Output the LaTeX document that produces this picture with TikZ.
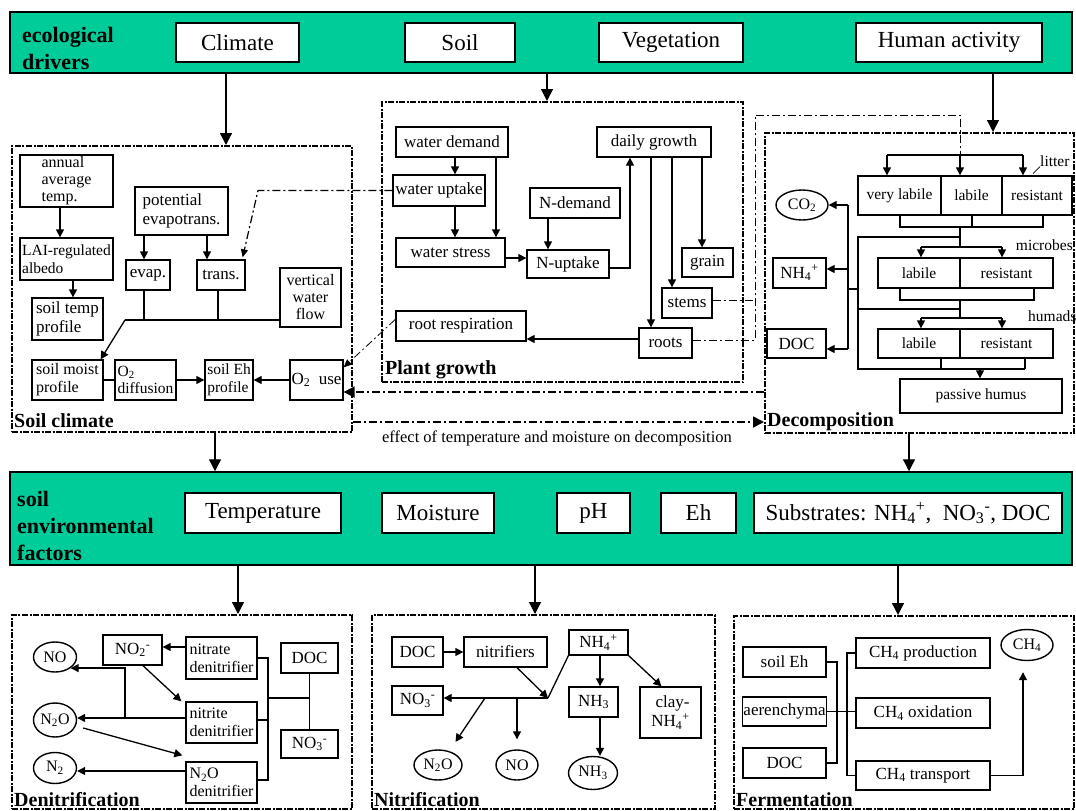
\documentclass[tikz,border=0pt]{standalone}
\usepackage{fontspec}
\setmainfont{Liberation Serif}
\usetikzlibrary{arrows.meta,shapes.geometric}
\definecolor{bandgreen}{HTML}{00CC99}
\newcommand\mybox[7][]{\node[box,minimum width={#5-#3},minimum height={#6-#4},#1] (#2) at ({(#3+#5)/2},{(#4+#6)/2}) {#7};}
\tikzset{
 box/.style={draw, line width=1.3pt, fill=white, inner sep=1pt, align=center, font=\fontsize{17}{19}\selectfont},
 sm/.style={font=\fontsize{15.5}{17.5}\selectfont},
 md/.style={font=\fontsize{16}{18}\selectfont},
 tri/.style={font=\fontsize{16}{17}\selectfont},
 bandbox/.style={font=\fontsize{23}{26}\selectfont, line width=1.5pt},
 band/.style={fill=bandgreen, line width=1.5pt},
 bandlab/.style={font=\bfseries\fontsize{22}{27}\selectfont, align=left, anchor=west, inner sep=0pt},
 grp/.style={line width=2pt, dash pattern=on 6pt off 1.5pt on 2pt off 1.5pt, fill=none},
 grplabel/.style={font=\bfseries\fontsize{20}{22}\selectfont, anchor=base west, inner sep=0pt},
 ell/.style={draw, ellipse, line width=1.4pt, inner sep=0pt, fill=white, font=\fontsize{16}{18}\selectfont},
 lab/.style={font=\fontsize{15.5}{17}\selectfont, inner sep=0pt},
 ln/.style={line width=1.3pt},
 arr/.style={line width=1.3pt, -{Triangle[length=8pt,width=8pt]}},
 bigarr/.style={line width=1.3pt, -{Triangle[length=12pt,width=12pt]}},
 dd/.style={line width=1.2pt, dash pattern=on 8pt off 3pt on 2pt off 3pt},
 ddthick/.style={line width=1.8pt, dash pattern=on 8pt off 3pt on 2pt off 3pt},
 ddarr/.style={-{Triangle[length=8pt,width=7pt]}},
 ddbig/.style={-{Triangle[length=11pt,width=11pt]}},
}
\begin{document}
\begin{tikzpicture}[x=1pt,y=-1pt]
\useasboundingbox (0,0) rectangle (1076,811);
\fill[white] (0,0) rectangle (1076,811);
% ---------- bands ----------
\mybox[band]{band1}{10}{12}{1072}{73}{}
\mybox[band]{band2}{10}{472}{1072}{565}{}
\node[bandlab] (edl) at (22,48) {ecological\\drivers};
\node[bandlab] (sefl) at (17,526) {soil\\environmental\\factors};
\mybox[bandbox]{climate}{176}{23}{299}{62}{Climate}
\mybox[bandbox]{soilD}{405}{23}{515}{62}{Soil}
\mybox[bandbox]{veg}{599}{23}{743}{62}{Vegetation}
\mybox[bandbox]{human}{856}{23}{1042}{62}{Human activity}
\mybox[bandbox]{temp}{185}{493}{341}{533}{Temperature}
\mybox[bandbox]{moist}{382}{493}{494}{533}{Moisture}
\mybox[bandbox]{ph}{557}{493}{630}{533}{pH}
\mybox[bandbox]{eh}{661}{493}{736}{533}{Eh}
\mybox[bandbox]{subst}{754}{493}{1062}{533}{Substrates: NH\textsubscript{4}\textsuperscript{+},\ \ NO\textsubscript{3}\textsuperscript{-}, DOC}
% ---------- groups ----------
\mybox[grp]{scg}{12}{146}{352}{432}{}
\mybox[grp]{pgg}{382}{102}{743}{382}{}
\mybox[grp]{decg}{765}{133}{1074}{433}{}
\mybox[grp]{deng}{12}{615}{352}{809}{}
\mybox[grp]{nitg}{372}{615}{715}{809}{}
\mybox[grp]{ferg}{734}{616}{1074}{809}{}
\node[grplabel] (scl) at (14,427) {Soil climate};
\node[grplabel] (pgl) at (385,374) {Plant growth};
\node[grplabel] (decl) at (767,426) {Decomposition};
\node[grplabel] (denl) at (14,806) {Denitrification};
\node[grplabel] (nitl) at (374,806) {Nitrification};
\node[grplabel] (ferl) at (736,806) {Fermentation};
% band arrows
\draw[bigarr] (band1.south -| 226,0) -- (scg.north -| 226,0);
\draw[bigarr] (band1.south -| 547,0) -- (pgg.north -| 547,0);
\draw[bigarr] (band1.south -| 993,0) -- (decg.north -| 993,0);
\draw[bigarr] (scg.south -| 215,0) -- (band2.north -| 215,0);
\draw[bigarr] (decg.south -| 909,0) -- (band2.north -| 909,0);
\draw[bigarr] (band2.south -| 238,0) -- (deng.north -| 238,0);
\draw[bigarr] (band2.south -| 535,0) -- (nitg.north -| 535,0);
\draw[bigarr] (band2.south -| 898,0) -- (ferg.north -| 898,0);
% ---------- soil climate ----------
\mybox[align=left,tri]{annual}{20}{155}{113}{207}{annual\\average\\temp.}
\mybox[align=left,sm]{lai}{20}{238}{113}{280}{LAI-regulated\\albedo}
\mybox[align=left]{stemp}{32}{298}{103}{340}{soil temp\\profile}
\mybox[align=left]{pet}{135}{187}{228}{235}{potential\\evapotrans.}
\mybox{evap}{126}{260}{170}{290}{evap.}
\mybox{trans}{197}{260}{245}{290}{trans.}
\mybox[tri]{vwf}{280}{268}{341}{327}{vertical\\water\\flow}
\mybox[align=left,md]{smoist}{32}{360}{103}{400}{soil moist\\profile}
\mybox[align=left,sm]{o2d}{115}{360}{176}{400}{O\textsubscript{2}\\diffusion}
\mybox[align=left,sm]{seh}{205}{360}{253}{400}{soil Eh\\profile}
\mybox{o2u}{290}{360}{343}{400}{O\textsubscript{2}\ \ use}
\draw[arr] (annual.south -| 60,0) -- (lai.north -| 60,0);
\draw[arr] (lai.south -| 73,0) -- (stemp.north -| 73,0);
\draw[arr] (pet.south -| 144,0) -- (evap.north -| 144,0);
\draw[arr] (pet.south -| 207,0) -- (trans.north -| 207,0);
\coordinate (j1) at (125,320);
\draw[ln] (evap.south -| 144,0) -- (j1 -| 144,0);
\draw[ln] (trans.south -| 218,0) -- (j1 -| 218,0);
\draw[ln] (j1) -- (vwf.west |- j1);
\draw[arr] (j1) -- ([xshift=-3pt]smoist.north east);
\draw[ln] (smoist.east) -- (o2d.west);
\draw[arr] (o2d.east) -- (seh.west);
\draw[arr] (o2u.west) -- (seh.east);
% ---------- plant growth ----------
\mybox{wd}{396}{127}{508}{157}{water demand}
\mybox{wu}{393}{175}{485}{206}{water uptake}
\mybox{ws}{396}{238}{505}{267}{water stress}
\mybox{nd}{530}{188}{620}{218}{N-demand}
\mybox{nu}{527}{250}{609}{278}{N-uptake}
\mybox{dg}{597}{127}{711}{157}{daily growth}
\mybox{grain}{682}{248}{733}{277}{grain}
\mybox{stems}{662}{288}{712}{318}{stems}
\mybox{roots}{639}{328}{692}{358}{roots}
\mybox{rr}{396}{311}{526}{341}{root respiration}
\draw[arr] (wd.south -| 455,0) -- (wu.north -| 455,0);
\draw[arr] (wd.south -| 496,0) -- (ws.north -| 496,0);
\draw[arr] (wu.south -| 455,0) -- (ws.north -| 455,0);
\draw[arr] (ws.east |- 0,258) -- (nu.west |- 0,258);
\draw[arr] (nd.south -| 548,0) -- (nu.north -| 548,0);
\draw[arr] (nu.east |- 0,268) -| (dg.south -| 630,0);
\draw[arr] (dg.south -| 702,0) -- (grain.north -| 702,0);
\draw[arr] (dg.south -| 672,0) -- (stems.north -| 672,0);
\draw[arr] (dg.south -| 651,0) -- (roots.north -| 651,0);
\draw[arr] (roots.west |- 0,339) -- (rr.east |- 0,339);
% dash-dot connectors
\draw[dd,ddarr] (wu.west) -- (wu.west -| 258,0) -- ([xshift=-3pt,yshift=2pt]trans.north east);
\draw[dd,line width=0.8pt,ddarr] ([yshift=-9pt]rr.north west) -- ([yshift=-8pt]o2u.north east);
\draw[ddthick,ddbig] (decg.west |- 0,392) -- (o2u.east |- 0,392);
\draw[ddthick,ddbig] (scg.east |- 0,422) -- (decg.west |- 0,422);
\node[font=\fontsize{16.5}{18}\selectfont] (eff) at (557,438) {effect of temperature and moisture on decomposition};
\coordinate (ltop) at (960,155);
\draw[dd,line width=0.8pt] (stems.east |- 0,300) -- (755,300);
\draw[dd,line width=0.8pt] (roots.east |- 0,340) -- (755,340) -- (755,115) -- (ltop |- 0,115) -- (ltop);
% ---------- decomposition ----------
\mybox[sm]{lvl}{858}{176}{941}{215}{very labile}
\mybox[sm]{llab}{941}{176}{1002}{215}{labile}
\mybox[sm]{lres}{1002}{176}{1072}{215}{resistant}
\mybox[sm]{mlab}{878}{258}{960}{288}{labile}
\mybox[sm]{mres}{960}{258}{1053}{288}{resistant}
\mybox[sm]{hlab}{878}{329}{960}{358}{labile}
\mybox[sm]{hres}{960}{329}{1053}{358}{resistant}
\mybox[sm]{pas}{900}{379}{1062}{413}{passive humus}
\node[ell,minimum width=52,minimum height=30] (co2) at (802,205) {CO\textsubscript{2}};
\mybox{nh4}{773}{258}{826}{288}{NH\textsubscript{4}\textsuperscript{+}}
\mybox{ddoc2}{767}{329}{826}{358}{DOC}
\node[lab,anchor=west] (littl) at (1040,161) {litter};
\node[lab,anchor=east] (micl) at (1073,245) {microbes};
\node[lab,anchor=west] (huml) at (1028,316) {humads};
\draw[line width=0.6pt] (littl.south west) -- ++(-7,7);
\draw[ln] (887,155) -- (1023,155);
\draw[arr] (887,155) -- (lvl.north -| 887,0);
\draw[arr] (ltop) -- (llab.north -| ltop);
\draw[arr] (1023,155) -- (lres.north -| 1023,0);
\draw[ln] (lvl.south -| 900,0) -- (900,227) -- (1043,227) -- (lres.south -| 1043,0);
\draw[ln] (llab.south -| 972,0) -- (972,227);
\draw[ln] (960,227) -- (960,247);
\draw[ln] (960,237) -- (858,237) -- (858,369) -- (1025,369);
\draw[ln] (858,309) -- (960,309);
\draw[ln] (921,247) -- (1002,247);
\draw[arr] (921,247) -- (mlab.north -| 921,0);
\draw[arr] (1002,247) -- (mres.north -| 1002,0);
\draw[ln] (mlab.south -| 900,0) -- (900,300) -- (1034,300) -- (mres.south -| 1034,0);
\draw[ln] (960,300) -- (960,318);
\draw[ln] (921,318) -- (1002,318);
\draw[arr] (921,318) -- (hlab.north -| 921,0);
\draw[arr] (1002,318) -- (hres.north -| 1002,0);
\draw[ln] (hlab.south -| 941,0) -- (941,369);
\draw[ln] (hres.south -| 1025,0) -- (1025,369);
\draw[arr] (980,369) -- (pas.north -| 980,0);
\draw[ln] (848,205) -- (848,349);
\draw[arr] (848,205) -- (co2.east);
\draw[arr] (848,269) -- (nh4.east |- 0,269);
\draw[arr] (848,349) -- (ddoc2.east |- 0,349);
\draw[ln] (848,289) -- (858,289);
% ---------- denitrification ----------
\node[ell,minimum width=43,minimum height=30] (no) at (55,657) {NO};
\node[ell,minimum width=43,minimum height=34] (n2o) at (55,720) {N\textsubscript{2}O};
\node[ell,minimum width=43,minimum height=31] (n2) at (55,768) {N\textsubscript{2}};
\mybox{no2}{103}{635}{162}{665}{NO\textsubscript{2}\textsuperscript{-}}
\mybox[align=left,md]{nrate}{186}{637}{257}{679}{nitrate\\denitrifier}
\mybox[align=left,md]{nrite}{186}{702}{257}{743}{nitrite\\denitrifier}
\mybox[align=left,md]{n2od}{186}{762}{257}{803}{N\textsubscript{2}O\\denitrifier}
\mybox{ddoc}{281}{643}{338}{673}{DOC}
\mybox{no3}{281}{730}{338}{758}{NO\textsubscript{3}\textsuperscript{-}}
\draw[ln] (nrate.east |- 0,658) -- (268,658) -- (268,780) -- (n2od.east |- 0,780);
\draw[ln] (nrite.east |- 0,720) -- (268,720);
\draw[ln] (268,698) -- (ddoc.south |- 0,698);
\draw[ln] (ddoc.south) -- (no3.north);
\draw[arr] (nrate.west |- 0,647) -- (no2.east |- 0,647);
\draw[arr] (no2.south -| 143,0) -- ([xshift=-4pt]nrite.north west);
\draw[arr] (nrite.west |- 0,718) -- (n2o.east |- 0,718);
\coordinate (j5) at (125,718);
\draw[arr] (j5) |- (no.south east);
\draw[arr] ([xshift=6pt,yshift=-8pt]n2o.east) -- ([xshift=-3pt,yshift=6pt]n2od.north west);
\draw[arr] (n2od.west |- 0,771) -- (n2.east |- 0,771);
% ---------- nitrification ----------
\mybox{ndoc}{392}{637}{443}{667}{DOC}
\mybox{nitr}{464}{637}{547}{667}{nitrifiers}
\mybox{nh4b}{569}{630}{628}{655}{NH\textsubscript{4}\textsuperscript{+}}
\mybox{no3b}{392}{686}{443}{715}{NO\textsubscript{3}\textsuperscript{-}}
\mybox{nh3b}{569}{687}{618}{717}{NH\textsubscript{3}}
\mybox[align=right]{clay}{640}{687}{701}{738}{clay-\\NH\textsubscript{4}\textsuperscript{+}}
\node[ell,minimum width=48,minimum height=30] (n2oe) at (438,765) {N\textsubscript{2}O};
\node[ell,minimum width=42,minimum height=30] (noe) at (517,765) {NO};
\node[ell,minimum width=49,minimum height=33] (nh3e) at (593,773) {NH\textsubscript{3}};
\coordinate (j2) at (548,698);
\coordinate (j3) at (485,698);
\coordinate (j4) at (517,698);
\draw[arr] (ndoc.east) -- (nitr.west);
\draw[arr] (nitr.south -| j4) -- (j2);
\draw[ln] (nh4b.south west) -- (j2);
\draw[arr] (j2) -- (no3b.east |- j2);
\draw[arr] (j3) -- ([yshift=12pt]n2oe.north east);
\draw[arr] (j4) -- ([yshift=10pt]noe.north);
\draw[arr] (nh4b.south -| 600,0) -- (nh3b.north -| 600,0);
\draw[arr] (nh4b.south east) -- ([xshift=-9pt]clay.north);
\draw[arr] (nh3b.south -| 600,0) -- (nh3e.north -| 600,0);
% ---------- fermentation ----------
\mybox{feh}{743}{647}{826}{677}{soil Eh}
\mybox{aer}{743}{697}{826}{726}{aerenchyma}
\mybox{fdoc}{743}{748}{826}{778}{DOC}
\mybox{cprod}{856}{638}{990}{668}{CH\textsubscript{4} production}
\mybox{coxi}{856}{698}{990}{728}{CH\textsubscript{4} oxidation}
\mybox{ctra}{856}{761}{990}{790}{CH\textsubscript{4} transport}
\node[ell,minimum width=52,minimum height=31] (ch4e) at (1027,645) {CH\textsubscript{4}};
\draw[ln] (feh.east) -- (feh.east -| 837,0) -- (fdoc.east -| 837,0) -- (fdoc.east);
\draw[ln] (aer.east) -- (coxi.west |- aer.east);
\draw[ln] (cprod.west) -- (cprod.west -| 847,0) -- (ctra.west -| 847,0) -- (ctra.west);
\draw[arr] (ctra.east) -| ([xshift=-4pt,yshift=-11pt]ch4e.south);
\end{tikzpicture}
\end{document}
